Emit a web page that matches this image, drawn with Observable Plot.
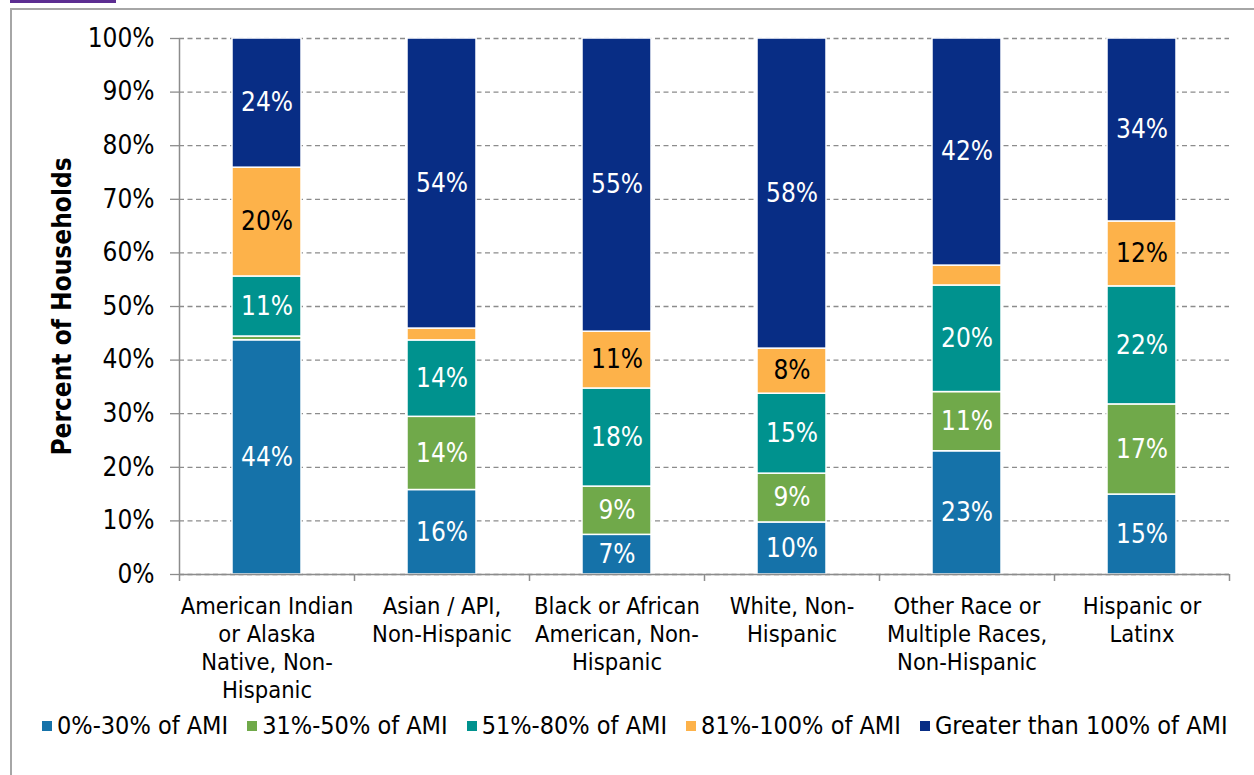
<!DOCTYPE html>
<html>
<head>
<meta charset="utf-8">
<script src="https://cdn.jsdelivr.net/npm/d3@7"></script>
<script src="https://cdn.jsdelivr.net/npm/@observablehq/plot@0.6"></script>
<style>
  html, body { margin: 0; padding: 0; background: #fff; }
  body { width: 1254px; height: 775px; overflow: hidden; position: relative;
         font-family: "DejaVu Sans Condensed", "DejaVu Sans", sans-serif; }
  #frame { position: absolute; left: 10px; top: 8px; width: 1320px; height: 820px;
           border: 2px solid #a6a6a6; box-sizing: border-box; }
  #tab { position: absolute; left: 10px; top: 0; width: 106px; height: 3px; background: #5c2d91; }
  #chart { position: absolute; left: 0; top: 0; }
  #legend { position: absolute; left: 42px; top: 711px; width: 1200px; display: flex;
            justify-content: flex-start; gap: 19px; font-size: 25px; color: #000; }
  .item { display: flex; align-items: center; white-space: nowrap; }
  .sw { width: 10px; height: 10px; margin-right: 5px; display: inline-block; }
</style>
</head>
<body>
<div id="frame"></div>
<div id="tab"></div>
<div id="chart"></div>
<div id="legend"></div>
<script>
// ---- data ----
const categories = [
  "American Indian or Alaska Native, Non-Hispanic",
  "Asian / API, Non-Hispanic",
  "Black or African American, Non-Hispanic",
  "White, Non-Hispanic",
  "Other Race or Multiple Races, Non-Hispanic",
  "Hispanic or Latinx"
];
const categoryLabels = [
  "American Indian\nor Alaska\nNative, Non-\nHispanic",
  "Asian / API,\nNon-Hispanic",
  "Black or African\nAmerican, Non-\nHispanic",
  "White, Non-\nHispanic",
  "Other Race or\nMultiple Races,\nNon-Hispanic",
  "Hispanic or\nLatinx"
];
const series = [
  "0%-30% of AMI",
  "31%-50% of AMI",
  "51%-80% of AMI",
  "81%-100% of AMI",
  "Greater than 100% of AMI"
];
const colors = ["#1572a9", "#70a94a", "#00928e", "#fdb24a", "#082d85"];
const ami0to30    = [43.7, 15.7,  7.4,  9.7, 22.9, 14.9];
const ami31to50   = [ 0.7, 13.6,  9.0,  9.1, 11.0, 16.8];
const ami51to80   = [11.2, 14.2, 18.3, 14.9, 19.8, 22.0];
const ami81to100  = [20.3,  2.2, 10.6,  8.4,  3.7, 12.1];
const amiOver100  = [24.1, 53.9, 54.7, 57.8, 42.2, 34.1];
const yTicks = [0, 0.1, 0.2, 0.3, 0.4, 0.5, 0.6, 0.7, 0.8, 0.9, 1.0];

const seriesValues = [ami0to30, ami31to50, ami51to80, ami81to100, amiOver100];
const rows = [];
series.forEach((s, si) => {
  categories.forEach((c, ci) => rows.push({cat: c, series: s, value: seriesValues[si][ci]}));
});
const labelOf = new Map(categories.map((c, i) => [c, categoryLabels[i]]));
const pct = d => `${Math.round(d.value)}%`;

const chart = Plot.plot({
  width: 1254,
  height: 775,
  marginLeft: 179,
  marginRight: 25,
  marginTop: 38,
  marginBottom: 201,
  style: {fontFamily: '"DejaVu Sans Condensed", "DejaVu Sans", sans-serif', background: "transparent"},
  x: {domain: categories, paddingInner: 0.606, paddingOuter: 0.303, axis: null},
  y: {domain: [0, 1], axis: null},
  color: {domain: series, range: colors},
  marks: [
    Plot.gridY(yTicks, {stroke: "#8c8c8c", strokeOpacity: 1, strokeDasharray: "5,3.5", strokeWidth: 1.3}),
    Plot.axisY({ticks: yTicks, tickFormat: d => `${Math.round(d * 100)}%`, tickSize: 9, tickPadding: 16,
                fontSize: 26, stroke: "#8c8c8c", strokeWidth: 1.3, color: "#000", label: null}),
    Plot.barY(rows, Plot.stackY({x: "cat", y: "value", fill: "series", offset: "normalize",
                stroke: "white", strokeWidth: 1.5})),
    Plot.text(rows, Plot.stackY({x: "cat", y: "value", z: "series", offset: "normalize",
                text: d => (d.value >= 5 && d.series !== series[3]) ? pct(d) : "",
                fill: "white", fontSize: 26})),
    Plot.text(rows, Plot.stackY({x: "cat", y: "value", z: "series", offset: "normalize",
                text: d => (d.value >= 5 && d.series === series[3]) ? pct(d) : "",
                fill: "black", fontSize: 26})),
    Plot.ruleY([0], {stroke: "#8c8c8c", strokeWidth: 1.5}),
    Plot.ruleX(categories, {x: d => d, dx: -87.5, y1: -0.013, y2: (d, i) => i === 0 ? 1 : 0,
                stroke: "#8c8c8c", strokeWidth: 1.5}),
    Plot.ruleX(categories.slice(-1), {x: d => d, dx: 87.5, y1: -0.013, y2: 0,
                stroke: "#8c8c8c", strokeWidth: 1.5}),
    Plot.text(categories, {x: d => d, y: 0, text: d => labelOf.get(d), dy: 20, lineAnchor: "top",
                fontSize: 23.5, lineHeight: 1.19, fill: "black"}),
    Plot.text(["Percent of Households"], {frameAnchor: "left", textAnchor: "middle", rotate: -90, dx: -117,
                fontWeight: "bold", fontSize: 26, fill: "black"})
  ]
});
document.getElementById("chart").appendChild(chart);

const legend = document.getElementById("legend");
series.forEach((s, i) => {
  const it = document.createElement("div");
  it.className = "item";
  it.innerHTML = `<span class="sw" style="background:${colors[i]}"></span><span>${s}</span>`;
  legend.appendChild(it);
});
</script>
</body>
</html>
